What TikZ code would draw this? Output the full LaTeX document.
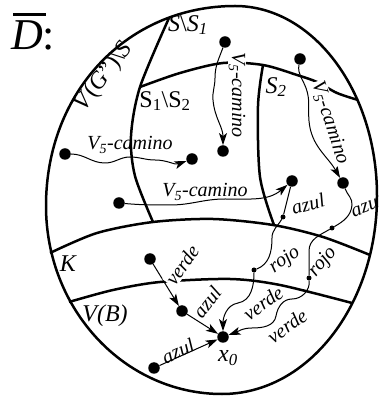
\documentclass[tikz,border=0pt]{standalone}
\usepackage{fontspec}
\setmainfont{Liberation Serif}
\usepackage{tikz}
\usetikzlibrary{arrows.meta}
\tikzset{
  rim/.style={line width=2.5pt},
  border/.style={line width=2.5pt},
  dot/.style={circle, fill=black, inner sep=0pt, minimum size=11.5pt},
  smalldot/.style={circle, fill=black, inner sep=0pt, minimum size=5pt},
  walk/.style={line width=1pt},
  arrow/.style={-{Stealth[length=12pt,width=8pt,inset=3pt]}, line width=1pt},
  region/.style={font=\fontsize{24}{24}\selectfont\itshape, inner sep=1pt},
  tag/.style={font=\fontsize{20}{20}\selectfont\itshape, inner sep=1pt},
  gap/.style={fill=white}
}
\begin{document}
\begin{tikzpicture}[x=1pt,y=1pt]
  \useasboundingbox (0,0) rectangle (382,396);
  % outer set and region borders
  \draw[rim] (46,190) .. controls (46,305) and (128,390) .. (235,390)
    .. controls (313,390) and (377,305) .. (377,200)
    .. controls (377,91) and (308,2) .. (222,2)
    .. controls (125,2) and (46,86) .. cycle;
  \draw[border] plot[smooth] coordinates {(169,378) (140,309) (131,260) (135,220) (153,174)};
  \draw[border] plot[smooth] coordinates {(140,309) (180,323) (223,333) (263,331) (297,321) (317,314) (337,303) (358,296)};
  \draw[border] plot[smooth] coordinates {(263,331) (258,290) (260,219) (274,171)};
  \draw[border] plot[smooth] coordinates {(50,143) (97,163) (153,174) (213,177) (273,171) (323,159) (370,141)};
  \draw[border] plot[smooth] coordinates {(69,94) (113,106) (160,114) (230,117) (280,111) (352,93)};

  \node[anchor=base west, inner sep=0pt, font=\fontsize{44}{44}\selectfont] (dbar) at (11,346) {\makebox[0pt][l]{\hspace{2pt}\rule[34pt]{33pt}{3pt}}\textit{D}:};
  \node[region] (ss1) at (188,371) {S\textup{\textbackslash}S\textsubscript{1}};
  \node[region, rotate=53] (vgs) at (104,319) {V\textup{(}G\textup{'')\textbackslash}S};
  \node[region, font=\fontsize{24}{24}\selectfont] (s1s2) at (165,295) {S\textsubscript{1}\textbackslash S\textsubscript{2}};
  \node[region] (s2) at (276,309) {S\textsubscript{2}};
  \node[region] (kk) at (68,132) {K};
  \node[region] (vb) at (105,80) {V(B)};

  % points
  \node[dot] (p1s) at (225,354) {};
  \node[dot] (p1t) at (223,245) {};
  \node[dot] (p2s) at (300,337) {};
  \node[dot] (p2t) at (343,213) {};
  \node[dot] (p3s) at (65,242) {};
  \node[dot] (p3t) at (192,237) {};
  \node[dot] (p4s) at (119,193) {};
  \node[dot] (p4t) at (292,215) {};
  \node[smalldot] (q1) at (283,179) {};
  \node[smalldot] (q2) at (332,168) {};
  \node[smalldot] (q3) at (254,126) {};
  \node[smalldot] (q4) at (309,118) {};
  \node[dot] (vs) at (150,137) {};
  \node[dot] (am) at (182,85) {};
  \node[dot] (ab) at (154,28) {};
  \node[dot] (x0) at (223,59) {};
  \node[region] (x0lbl) at (228,38) {x\textsubscript{0}};

  % walks
  \draw[arrow] (p1s) to[out=-110,in=90] (215,318) to[out=-90,in=95] (213,296) to[out=-85,in=90] (p1t);
  \draw[arrow] (p2s) to[out=-100,in=110] (306,308) to[out=-70,in=95] (309,275) to[out=-85,in=120] (p2t);
  \draw[arrow] (p3s) to[out=0,in=180] (105,233) to[out=0,in=180] (130,239) to[out=0,in=180] (155,236) to[out=0,in=200] (p3t);
  \draw[arrow] (p4s) to[out=-5,in=180] (170,191) to[out=0,in=180] (225,197) to[out=0,in=220] (p4t);
  \draw[walk] (p4t) -- (q1);
  \draw[walk] (q1) to[out=-120,in=90] (272,158) to[out=-90,in=20] (q3);
  \draw[arrow] (q3) to[out=-90,in=10] (238,93) to[out=190,in=90] (x0);
  \draw[walk] (p2t) to[out=-70,in=85] (352,191) to[out=-95,in=30] (q2);
  \draw[walk] (q2) to[out=-150,in=90] (309,145) -- (q4);
  \draw[arrow] (q4) to[out=-85,in=0] (292,97) to[out=180,in=80] (276,80) to[out=-100,in=0] (252,68) to[out=180,in=20] (x0);
  \draw[arrow] (vs) -- (am);
  \draw[arrow] (am) -- (x0);
  \draw[arrow] (ab) -- (x0);

  % labels
  \node[tag, gap, rotate=-90] (wa) at (237,301) {V\textsubscript{5}-camino};
  \node[tag, gap, rotate=-72] (wb) at (330,273) {V\textsubscript{5}-camino};
  \node[tag] (wc) at (130,251) {V\textsubscript{5}-camino};
  \node[tag] (wd) at (205,204) {V\textsubscript{5}-camino};
  \node[tag, rotate=15] (c1) at (308,192) {azul};
  \node[tag, rotate=35] (c2) at (285,136) {rojo};
  \node[tag, rotate=35] (c3) at (263,93) {verde};
  \node[tag, rotate=20] (c4) at (365,188) {azu};
  \node[tag, rotate=50] (c5) at (323,134) {rojo};
  \node[tag, rotate=35] (c6) at (287,70) {verde};
  \node[tag, gap, rotate=55] (c7) at (182,131) {verde};
  \node[tag, rotate=52] (c8) at (207,94) {azul};
  \node[tag, rotate=24] (c9) at (178,45) {azul};
\end{tikzpicture}
\end{document}
